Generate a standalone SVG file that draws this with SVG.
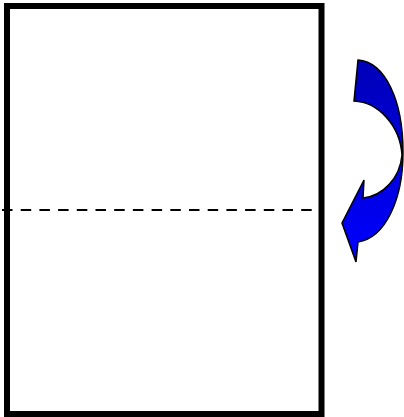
<svg xmlns="http://www.w3.org/2000/svg" width="404" height="417" viewBox="0 0 404 417">
<defs>
<style>
.frame{fill:#fff;stroke:#000;stroke-width:6}
.fold{stroke:#000;stroke-width:2.2;stroke-dasharray:10.5 8.2;fill:none}
.arrow{stroke:#000;stroke-width:1.5;stroke-linejoin:miter}
</style>
<linearGradient id="g" x1="0" y1="0" x2="0" y2="1">
<stop offset="0" stop-color="#0000B8"/>
<stop offset="1" stop-color="#0000FF"/>
</linearGradient>
</defs>
<rect width="404" height="417" fill="#fff"/>
<g id="sheet">
<rect class="frame" x="7" y="6" width="314.5" height="408"/>
</g>
<g id="connectors">
<line class="fold" x1="2" y1="210" x2="316" y2="210"/>
</g>
<g id="turn-arrow">
<path class="arrow" fill="url(#g)" d="M358,60 C385,62 403,100 403,152 C403,200 385,238 358,242 L356,262 L342,223 L364,180 L363,198 C383,196 400,178 402,155 C400,125 378,102 354,101 Z"/>
</g>
</svg>
